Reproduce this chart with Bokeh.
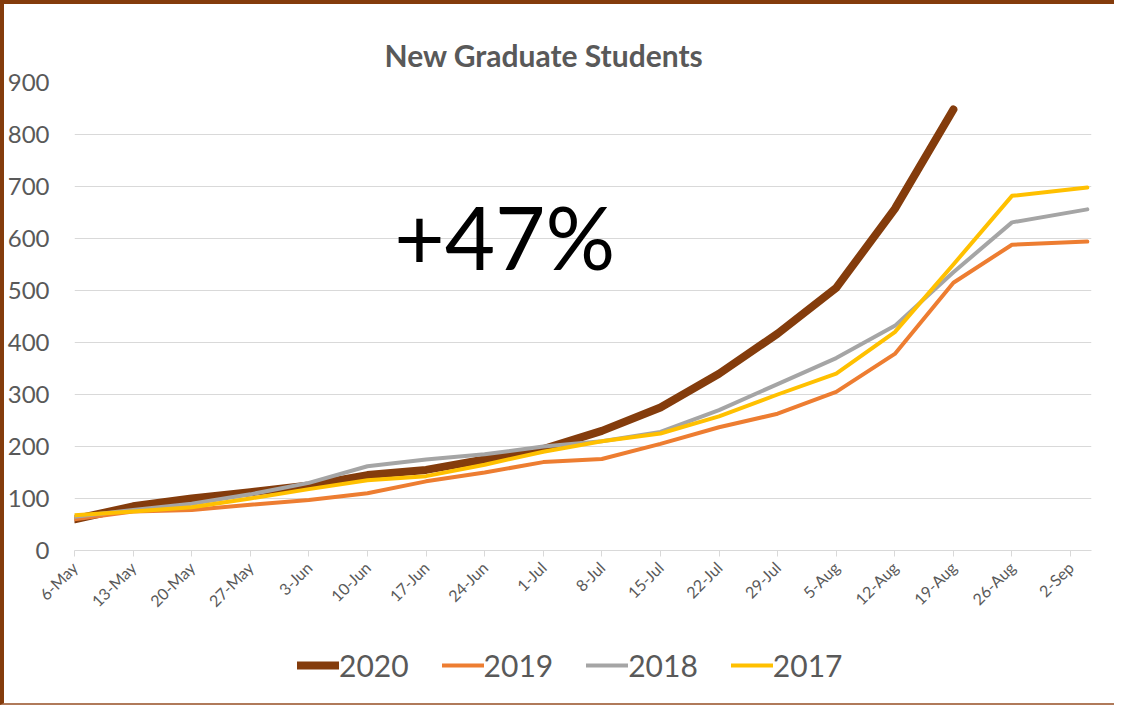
import math
from bokeh.plotting import figure
from bokeh.layouts import column
from bokeh.models import (FixedTicker, Legend, LegendItem, Label, Range1d, ColumnDataSource)
from bokeh.embed import file_html
from bokeh.resources import INLINE

# ---- data -------------------------------------------------------------
tick_days = [0, 7, 14, 21, 28, 35, 42, 49, 56, 63, 70, 77, 84, 91, 98, 105, 112, 119]
tick_labels = ["6-May", "13-May", "20-May", "27-May", "3-Jun", "10-Jun", "17-Jun",
               "24-Jun", "1-Jul", "8-Jul", "15-Jul", "22-Jul", "29-Jul", "5-Aug",
               "12-Aug", "19-Aug", "26-Aug", "2-Sep"]
# days since 6-May for each weekly data point (last report slightly after 2-Sep)
point_days = [0, 7, 14, 21, 28, 35, 42, 49, 56, 63, 70, 77, 84, 91, 98, 105, 112, 121]

y2020 = [60, 85, 100, 112, 125, 145, 155, 175, 195, 230, 275, 340, 417, 505, 657, 848]
y2019 = [60, 75, 78, 88, 97, 110, 133, 150, 170, 176, 205, 237, 263, 305, 378, 515, 588, 594]
y2018 = [65, 78, 90, 108, 130, 162, 175, 185, 200, 210, 228, 270, 320, 370, 432, 535, 631, 656]
y2017 = [68, 75, 83, 100, 118, 135, 143, 165, 190, 210, 225, 258, 300, 340, 420, 550, 682, 698]

series = [
    ("2020", y2020, "#843C0C", 8),
    ("2019", y2019, "#ED7D31", 4),
    ("2018", y2018, "#A5A5A5", 4),
    ("2017", y2017, "#FFC000", 4),
]

title_text = "New Graduate Students"
callout_text = "+47%"

FONT = "Lato"
GRAY = "#595959"
GRID = "#D9D9D9"
BR = "#843C0C"

W = 1110

# ---- main chart -------------------------------------------------------
p = figure(width=W, height=616, output_backend="svg", toolbar_location=None,
           x_range=Range1d(0, 121.5), y_range=Range1d(0, 900))
p.min_border_left = 69
p.min_border_right = 23
p.min_border_top = 78
p.min_border_bottom = 70
p.outline_line_color = None
p.background_fill_color = "white"
p.border_fill_color = "white"

p.title.text = title_text
p.title.text_font = FONT
p.title.text_font_size = "30px"
p.title.text_font_style = "bold"
p.title.text_color = GRAY
p.title.align = "left"
p.title.offset = 310
p.title.standoff = 20

p.yaxis.ticker = FixedTicker(ticks=list(range(0, 901, 100)))
p.yaxis.axis_line_color = None
p.yaxis.major_tick_line_color = None
p.yaxis.major_tick_out = 0
p.yaxis.major_tick_in = 0
p.yaxis.minor_tick_line_color = None
p.yaxis.major_label_text_font = FONT
p.yaxis.major_label_text_font_size = "24px"
p.yaxis.major_label_text_color = GRAY
p.yaxis.major_label_standoff = 25

p.xaxis.ticker = FixedTicker(ticks=tick_days)
p.xaxis.major_label_overrides = {d: l for d, l in zip(tick_days, tick_labels)}
p.xaxis.axis_line_color = GRID
p.xaxis.major_tick_line_color = GRID
p.xaxis.major_tick_in = 0
p.xaxis.major_tick_out = 6
p.xaxis.minor_tick_line_color = None
p.xaxis.major_label_orientation = math.pi / 4
p.xaxis.major_label_text_font = FONT
p.xaxis.major_label_text_font_size = "16px"
p.xaxis.major_label_text_color = GRAY
p.xaxis.major_label_standoff = 8

p.xgrid.grid_line_color = None
p.ygrid.grid_line_color = GRID
p.ygrid.grid_line_width = 1

for name, ys, color, w in series:
    src = ColumnDataSource(dict(x=point_days[:len(ys)], y=ys))
    p.line("x", "y", source=src, line_color=color, line_width=w,
           line_join="round", line_cap="round")

p.add_layout(Label(x=51.4, y=604, text=callout_text, text_font=FONT, text_font_size="87px",
                   text_color="black", text_align="center", text_baseline="alphabetic"))

# ---- legend strip -----------------------------------------------------
lg = figure(width=W, height=83, output_backend="svg", toolbar_location=None,
            x_range=Range1d(0, 1), y_range=Range1d(0, 1))
lg.axis.visible = False
lg.grid.visible = False
lg.outline_line_color = None
lg.min_border = 0
lg.border_fill_color = "white"
items = []
for name, ys, color, w in series:
    # off-range proxy lines: only their legend swatches are visible
    r = lg.line(x=[-10, -9], y=[-10, -9], line_color=color, line_width=w, line_cap="round")
    items.append(LegendItem(label=name, renderers=[r]))
legend = Legend(items=items, orientation="horizontal", location=(223, 20))
legend.label_text_font = FONT
legend.label_text_font_size = "30px"
legend.label_text_color = GRAY
legend.glyph_width = 42
legend.glyph_height = 30
legend.label_standoff = 0
legend.spacing = 33
legend.padding = 0
legend.margin = 0
legend.border_line_color = None
legend.background_fill_alpha = 0
lg.add_layout(legend, "center")

layout = column(p, lg, spacing=0,
                styles={"border-left": "4px solid " + BR, "border-top": "4px solid " + BR,
                        "border-bottom": "2px solid #B07A5A"})

open("out.html", "w").write(file_html(layout, INLINE))
